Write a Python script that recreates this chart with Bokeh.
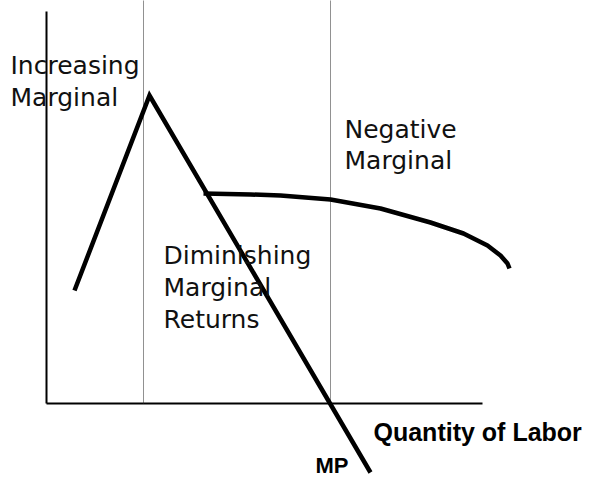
from bokeh.plotting import figure
from bokeh.models import Range1d
from bokeh.core.properties import value
from bokeh.embed import file_html
from bokeh.resources import INLINE

# ---- data (units: quantity of labor / marginal product) ----
axis_x_end = 43.6
axis_y_top = 39.2
boundary_x = [9.7, 28.4]          # region boundaries (dotted)
boundary_top = 40.5

mp_x = [2.8, 10.3, 32.4]          # marginal product curve
mp_y = [11.3, 30.8, -6.9]

ap_x = [15.7, 20.4, 23.4, 28.4, 33.4, 38.4, 41.7, 44.1, 45.4, 46.1, 46.3]
ap_y = [21.0, 20.9, 20.8, 20.4, 19.5, 18.1, 17.0, 15.8, 14.8, 14.0, 13.5]

region_labels = ["Increasing", "Marginal",
                 "Negative", "Marginal",
                 "Diminishing", "Marginal", "Returns"]
region_label_x = [-3.6, -3.6, 29.8, 29.8, 11.7, 11.7, 11.7]
region_label_y = [33.8, 30.6, 27.4, 24.3, 14.8, 11.6, 8.4]

axis_label = ["Quantity of Labor"]
axis_label_x = [32.7]
axis_label_y = [-2.8]

curve_label = ["MP"]
curve_label_x = [26.9]
curve_label_y = [-6.2]

p = figure(width=593, height=479, output_backend="svg", toolbar_location=None,
           x_range=Range1d(-4.6, 54.7), y_range=Range1d(-7.6, 40.3),
           min_border=0, background_fill_color="white", border_fill_color="white")
p.xaxis.visible = False
p.yaxis.visible = False
p.xgrid.visible = False
p.ygrid.visible = False
p.outline_line_color = None

# axes
p.line([0, 0], [0, axis_y_top], line_color="black", line_width=2)
p.line([0, axis_x_end], [0, 0], line_color="black", line_width=2)

# dotted region boundaries
p.segment(x0=boundary_x, y0=[0, 0], x1=boundary_x, y1=[boundary_top] * 2,
          line_color="#222222", line_width=1, line_dash="1 1")

# MP curve
p.line(mp_x, mp_y, line_color="black", line_width=4.5, line_join="miter")
# AP-like curve
p.line(ap_x, ap_y, line_color="black", line_width=4.5)

p.text(x=region_label_x, y=region_label_y, text=region_labels,
       text_font=value("DejaVu Sans"), text_font_size="25px",
       text_color="#111111", text_align="left", text_baseline="alphabetic")

p.text(x=axis_label_x, y=axis_label_y, text=axis_label,
       text_font=value("Liberation Sans"), text_font_style="bold",
       text_font_size="25px", text_color="black",
       text_align="left", text_baseline="alphabetic")

p.text(x=curve_label_x, y=curve_label_y, text=curve_label,
       text_font=value("Liberation Sans"), text_font_style="bold",
       text_font_size="22px", text_color="black",
       text_align="left", text_baseline="alphabetic")

open("out.html", "w").write(file_html(p, INLINE))
